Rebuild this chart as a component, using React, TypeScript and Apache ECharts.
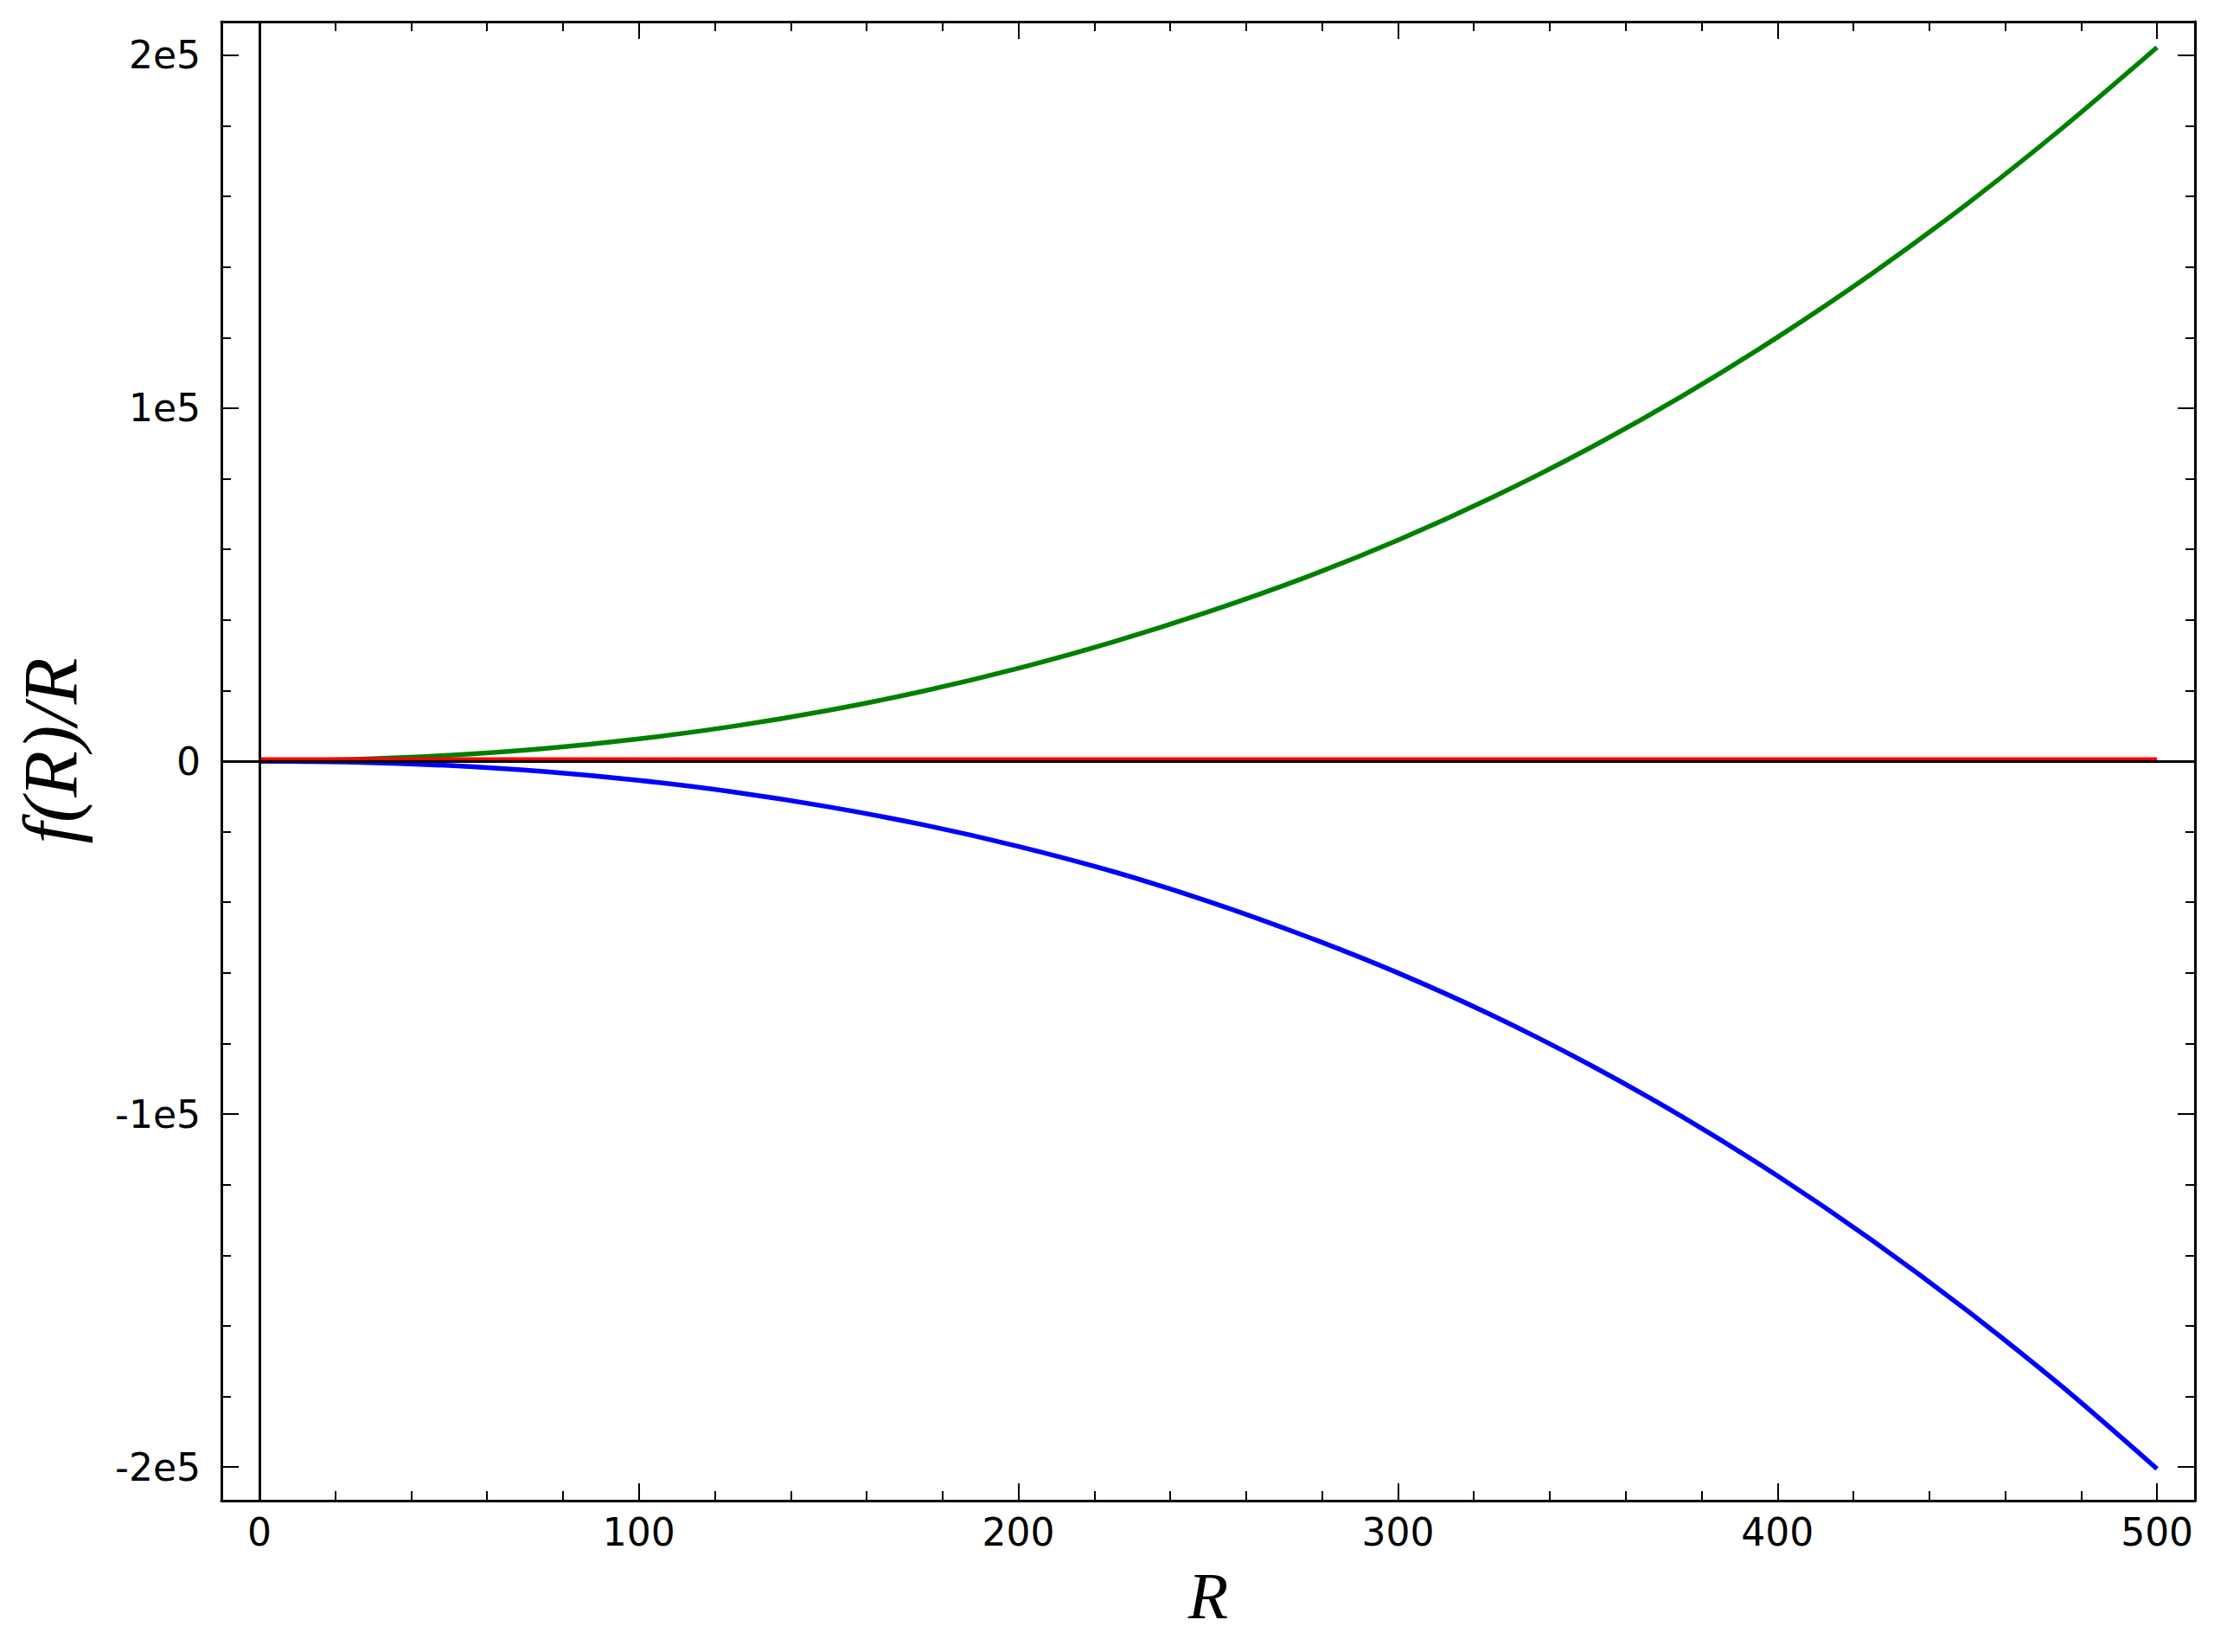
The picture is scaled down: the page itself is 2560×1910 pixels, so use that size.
import React, { useEffect, useRef } from "react";
import * as echarts from "echarts";

// Radius samples
const rValues = [0, 25, 50, 75, 100, 125, 150, 175, 200, 225, 250, 275, 300, 325, 350, 375, 400, 425, 450, 475, 500];
// f(R)/R curves
const greenValues = [0, 500, 1650, 3550, 6300, 9900, 14400, 19850, 26300, 33800, 42300, 51800, 62600, 74800, 88400, 103500, 120100, 138200, 157900, 179300, 202200];
const blueValues = [0, -300, -1250, -2950, -5450, -8750, -12950, -18050, -24150, -31300, -39700, -49300, -60000, -72100, -85700, -100800, -117500, -135800, -155700, -177200, -200500];
const redValues = [500, 500, 500, 500, 500, 500, 500, 500, 500, 500, 500, 500, 500, 500, 500, 500, 500, 500, 500, 500, 500];

// Ticks
const xMajorTicks = [0, 100, 200, 300, 400, 500];
const xTickLabels = ["0", "100", "200", "300", "400", "500"];
const xMinorTicks = [20, 40, 60, 80, 120, 140, 160, 180, 220, 240, 260, 280, 320, 340, 360, 380, 420, 440, 460, 480];
const yMajorTicks = [-200000, -100000, 0, 100000, 200000];
const yTickLabels = ["-2e5", "-1e5", "0", "1e5", "2e5"];
const yMinorTicks = [-180000, -160000, -140000, -120000, -80000, -60000, -40000, -20000, 20000, 40000, 60000, 80000, 120000, 140000, 160000, 180000];

const X_MIN = -10;
const X_MAX = 510;
const Y_MIN = -209500;
const Y_MAX = 209500;

const LABEL_FONT = { fontFamily: "DejaVu Sans", fontSize: 44, color: "#000" };

function makeX(position: string, ticks: number[], len: number, withLine: boolean, withLabel: boolean, extra: any = {}) {
  return {
    type: "value",
    position,
    min: X_MIN,
    max: X_MAX,
    axisLine: { show: withLine, onZero: false, lineStyle: { color: "#000", width: 3 } },
    axisTick: { show: true, inside: true, length: len, customValues: ticks, lineStyle: { color: "#000", width: 2 } },
    axisLabel: withLabel
      ? { show: true, customValues: ticks, margin: 14, ...LABEL_FONT, formatter: (v: number) => xTickLabels[xMajorTicks.indexOf(v)] ?? String(v) }
      : { show: false },
    splitLine: { show: false },
    ...extra,
  };
}

function makeY(position: string, ticks: number[], len: number, withLine: boolean, withLabel: boolean, extra: any = {}) {
  return {
    type: "value",
    position,
    min: Y_MIN,
    max: Y_MAX,
    axisLine: { show: withLine, onZero: false, lineStyle: { color: "#000", width: 3 } },
    axisTick: { show: true, inside: true, length: len, customValues: ticks, lineStyle: { color: "#000", width: 2 } },
    axisLabel: withLabel
      ? { show: true, customValues: ticks, margin: 24, ...LABEL_FONT, formatter: (v: number) => yTickLabels[yMajorTicks.indexOf(v)] ?? String(v) }
      : { show: false },
    splitLine: { show: false },
    ...extra,
  };
}

export default function App() {
  const ref = useRef<HTMLDivElement>(null);
  useEffect(() => {
    document.body.style.margin = "0";
    if (!ref.current) return;
    const chart = echarts.init(ref.current, null, { renderer: "svg" });
    const pairs = (vals: number[]) => rValues.map((r, i) => [r, vals[i]]);
    chart.setOption({
      animation: false,
      backgroundColor: "#fff",
      grid: { left: 256, right: 22, top: 25, bottom: 175, containLabel: false },
      xAxis: [
        makeX("bottom", xMajorTicks, 20, true, true, {
          name: "R",
          nameLocation: "middle",
          nameGap: 72,
          nameTextStyle: { fontFamily: "Liberation Serif", fontStyle: "italic", fontSize: 76, color: "#000" },
        }),
        makeX("bottom", xMinorTicks, 11, false, false),
        makeX("top", xMajorTicks, 20, true, false),
        makeX("top", xMinorTicks, 11, false, false),
      ],
      yAxis: [
        makeY("left", yMajorTicks, 20, true, true, {
          name: "f(R)/R",
          nameLocation: "middle",
          nameRotate: 90,
          nameGap: 154,
          nameTextStyle: { fontFamily: "Liberation Serif", fontStyle: "italic", fontSize: 88, color: "#000", padding: [0, 0, 0, 24] },
        }),
        makeY("left", yMinorTicks, 11, false, false),
        makeY("right", yMajorTicks, 20, true, false),
        makeY("right", yMinorTicks, 11, false, false),
      ],
      series: [
        {
          type: "line",
          name: "green",
          data: pairs(greenValues),
          showSymbol: false,
          smooth: 0.3,
          lineStyle: { color: "#008000", width: 5.5 },
          z: 2,
        },
        {
          type: "line",
          name: "blue",
          data: pairs(blueValues),
          showSymbol: false,
          smooth: 0.3,
          lineStyle: { color: "#0000ff", width: 5.5 },
          z: 2,
        },
        {
          type: "line",
          name: "red",
          data: pairs(redValues),
          showSymbol: false,
          lineStyle: { color: "#ff0000", width: 5 },
          z: 3,
          markLine: {
            silent: true,
            symbol: ["none", "none"],
            label: { show: false },
            lineStyle: { color: "#000", width: 3, type: "solid" },
            z: 4,
            data: [{ xAxis: 0 }, { yAxis: 0 }],
          },
        },
      ],
    });
    return () => chart.dispose();
  }, []);
  return <div ref={ref} style={{ width: 2560, height: 1910 }} />;
}
